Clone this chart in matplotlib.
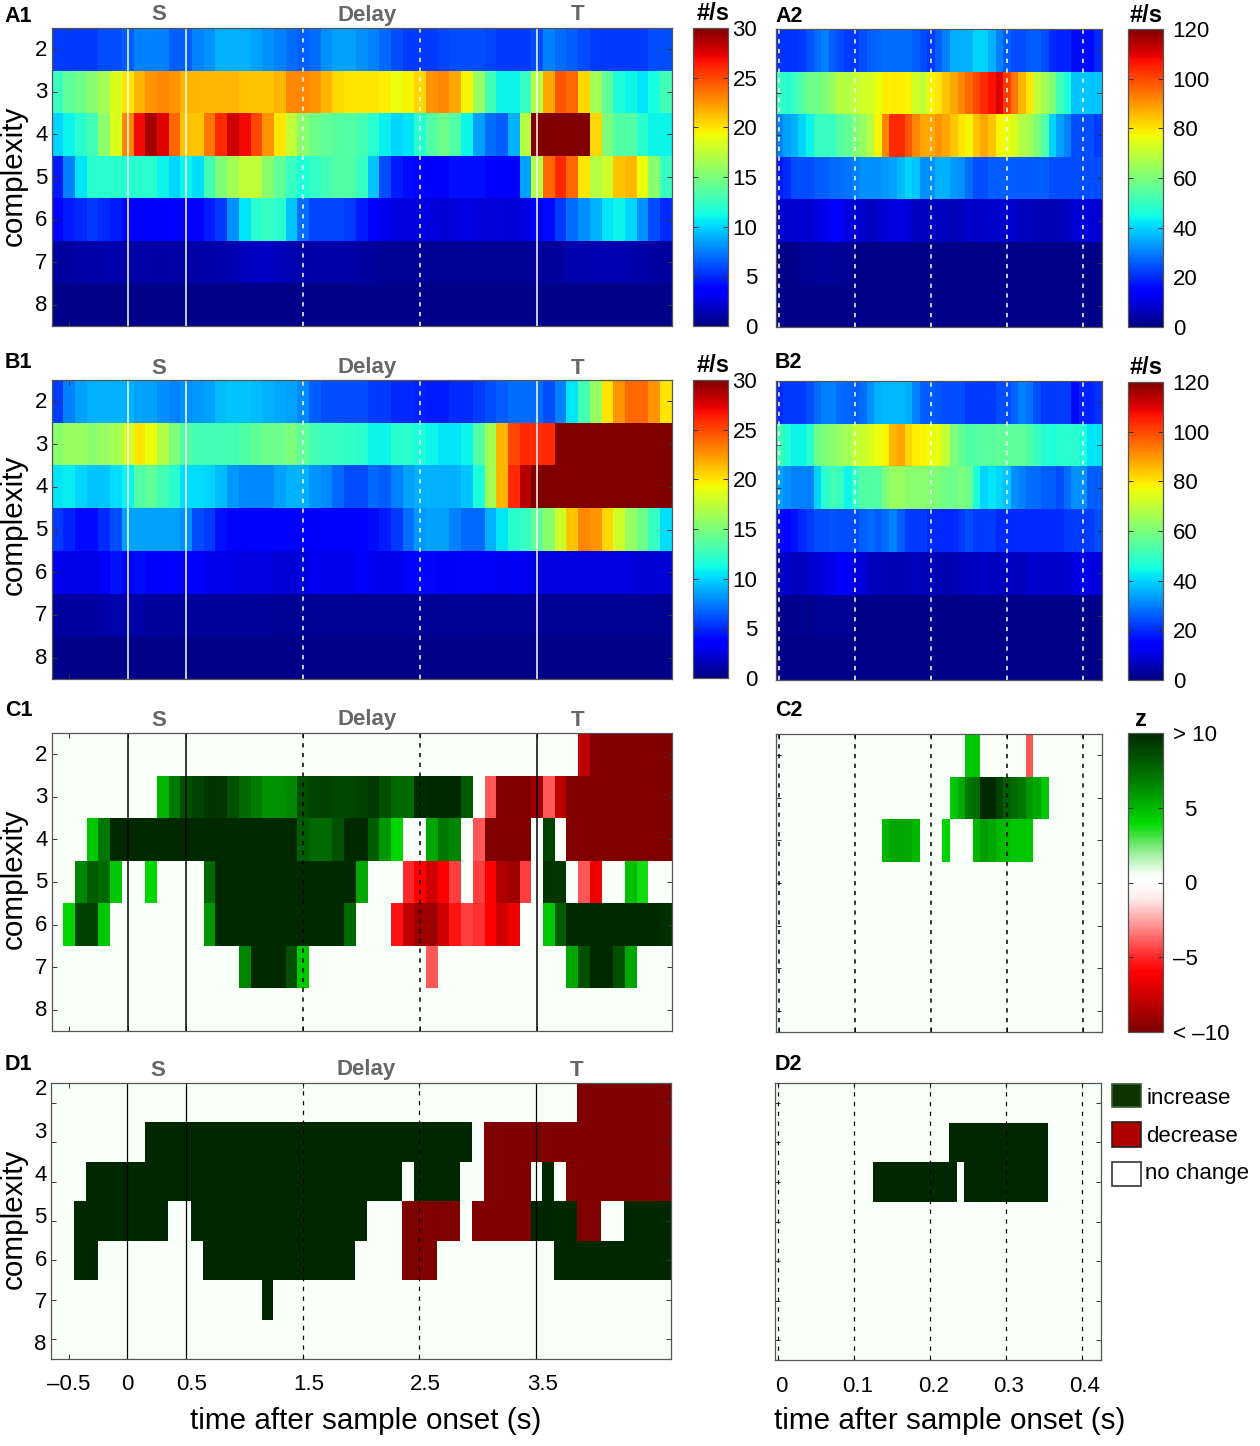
import numpy as np
import matplotlib
matplotlib.use('Agg')
import matplotlib.pyplot as plt
from matplotlib.colors import LinearSegmentedColormap, ListedColormap
from matplotlib.patches import Rectangle
from matplotlib.transforms import ScaledTranslation

plt.rcParams['font.family'] = ['Liberation Sans', 'DejaVu Sans']

W, H = 1260, 1446

complexity = [2, 3, 4, 5, 6, 7, 8]
times_long = [-0.5, 0, 0.5, 1.5, 2.5, 3.5]
labels_long = ['\u20130.5', '0', '0.5', '1.5', '2.5', '3.5']
times_short = [0, 0.1, 0.2, 0.3, 0.4]
labels_short = ['0', '0.1', '0.2', '0.3', '0.4']
solid_events = [0, 0.5, 3.5]
dotted_events = [1.5, 2.5]

# firing rates, one list per complexity, 0.1 s bins
a1_2 = [5.5,5.5,5.5,5.5,6,6,6.5,7.5,7.5,7.5,
  6.5,6.5,7.5,8,9,9,9,8.5,8,7.5,
  7,6.5,7,8,8.5,8.5,8,7.5,6.8,6,
  5.5,5.5,5.5,5.8,6,6,6,5.8,5.5,5.5,
  5.5,6,7.5,7,6.5,6,5.5,5.5,5.5,5.5,
  5.5,6,6]
a1_3 = [12.5,14,14.5,15.5,16.5,18.5,20,21.5,22.5,23,
  22.5,21.5,21.5,21.5,21.5,21.5,21,21,21,21.5,
  23,23,22.5,21.5,20.5,20,20,20,19.8,19,
  19.5,20.5,22.5,23,22,19.5,16,13,11,11,
  12.5,17,22,24.5,24,20.5,16.5,14,11.5,11,
  10.5,11.3,13]
a1_4 = [10,11,12,13,15.5,18.5,23,27,29,27.5,
  24,21,21,23.5,26,28,27,25,22.5,20,
  17.5,15.5,14.5,14,13.7,13.5,13,12,10.8,10,
  10.5,12,13.5,14.5,13.5,11,8.5,7,6.5,9,
  17,31,31,31,31,30,20.5,15,13.5,13.5,
  12,11,11]
a1_5 = [4.5,7.5,10.5,12,12,12,11.8,12,12,11,
  10,11,10.3,13,15,16.5,17.5,17.5,15.5,14,
  12.5,11.7,12.3,13,13.5,13.5,12.5,9.5,6,4.5,
  4,3.8,3.6,3.7,4.2,4.2,4.2,3.6,3.4,3.6,
  8.5,17,24,26,24,20,17,18,21,21.5,
  19,15.5,12.5]
a1_6 = [3.4,4.5,5,5.5,5,4.5,3.8,3.6,3.5,3.4,
  3.4,3.4,3.8,4.5,5.5,8,10.5,12,12.5,12,
  9.5,7,5.8,5.8,5.8,5.5,4.5,3.6,3,2.6,
  2.4,2.5,2.5,2.3,2.4,2.6,2.4,2.4,2.4,2.3,
  2.6,3.4,4,5.5,7,8,9,10.5,11,10,
  8,6,5]
a1_7 = [.9,.9,1.1,1.1,1.2,1.2,1,1,1,1,
  1,1,1.1,1.1,1.2,1.4,1.6,1.8,1.8,1.6,
  1.4,1.1,1.1,1.1,1.1,1.1,.9,.9,.6,.6,
  .6,.6,.6,.6,.6,.6,.6,.6,.6,.6,
  .6,.7,.8,.9,1.2,1.2,1.3,1.4,1.4,1.2,
  1.1,.9,.9]
a1_8 = [.3] * 53

b1_2 = [5.5,7.5,8.5,9,9,9,9,8.5,8.5,8,
  7.5,8,8.3,8.5,9.3,9.5,9.5,9.3,9,8.7,
  8.5,7.8,6.5,6,6,6,6,5.5,5.5,5,
  5,4.8,4.5,4.5,5,5,5.5,6,6.5,7,
  7,7,6,7.5,10.5,13,16,20,22.5,24,
  24,22.5,20]
b1_3 = [15.5,16,16,15.5,16,16.5,18,20,19,17,
  15,13.5,13,13,13,13,13.5,14,14.5,14.5,
  15,14,13,12.5,12.5,12.3,12,11,11,12,
  12,11.5,11,10.5,10.5,11,13.5,16.5,21.5,25,
  26,26,26,31,31,31,31,31,31,31,
  31,31,31]
b1_4 = [10.5,10.7,10,9.5,9.5,10.3,11,13.5,14,13,
  12,10.3,10.3,10,9.3,8.3,7.8,7.8,7.8,8.5,
  9,9,8.2,7.8,6.8,6,6,6.8,6.5,7.5,
  8.5,9,9,9,9,9.5,11.5,16.5,21.5,26,
  28.5,30.5,31,31,31,31,31,31,31,31,
  31,31,31]
b1_5 = [5.5,4.8,4,4,5,6,8.5,8.5,8.5,8.5,
  8.5,8,6,5.5,4.2,3.8,3.6,3.5,3.4,3.4,
  3.4,3.2,3.4,3.4,3.4,3.4,3.4,4,4.5,5.5,
  7,8.3,8.5,8.5,7.5,6.8,6.8,9,10.5,12,
  12.5,14,15.5,18,21,23,22.5,20.5,18,16,
  14.5,12.5,10.3]
b1_6 = [3,2.7,2.8,2.8,3.2,4.3,3.6,4,3.6,3.4,
  3.4,3.5,3.4,3,3,2.8,2.6,2.5,2.5,2.3,
  2.3,2.5,3,3,3,3,3.4,3,3,3,
  3.3,3.9,3.9,3.5,3.2,3.2,3.2,3.2,3.1,3.1,
  3,2.6,2.5,2.5,2.5,2.5,2.5,2.5,2.5,2.5,
  2.3,2.3,2.3]
b1_7 = [.9,.9,.9,.9,1.1,1.2,1.1,1,.8,.8,
  .8,.8,.8,.8,.8,.8,.8,.8,.8,.5,
  .5,.5,.5,.5,.5,.5,.5,.5,.5,.5,
  .7,.7,.7,.7,.7,.7,.5,.5,.5,.5,
  .5,.5,.5,.5,.5,.5,.5,.5,.5,.5,
  .5,.5,.5]
b1_8 = [.3] * 53

# same thing for the short window, 10 ms bins
a2_2 = [21,21,21,22,25,28,30,26,24,22,
  22,24,26,27,28,28,28,28,26,24,
  22,26,30,36,36,36,40,40,36,30,
  26,24,24,26,26,24,20,19,19,16,
  16,16,20]
a2_3 = [50,48,50,54,58,58,60,64,68,68,
  70,72,73,76,79,79,79,78,72,70,
  78,80,84,88,92,96,100,104,107,110,
  102,94,86,80,70,66,60,52,46,38,
  38,38,38]
a2_4 = [30,34,36,40,44,50,50,50,54,56,
  60,64,68,78,92,104,104,98,92,88,
  88,90,88,84,80,78,84,88,84,78,
  76,74,68,66,60,54,40,34,30,24,
  24,24,22]
a2_5 = [18,20,24,24,24,26,26,28,28,29,
  30,32,32,32,33,34,37,40,38,32,
  32,36,36,33,32,28,24,24,26,26,
  26,26,26,26,26,26,24,24,24,24,
  24,24,24]
a2_6 = [9,8,8,9,8,10,11,14,13,10,
  9,8,7,8,9,10,10,9,7,7,
  7,7,7,6,7,8,8,8,8,8,
  8,8,7,7,6,6,6,6,7,9,
  9,9,9]
a2_7 = [1,1,1,2.5,2.5,2.5,3,3,2.5,2.5,
  1,1,1,1,1,1,1,1,1,1,
  1,1,1,1,1,1,1,1,1,1,
  1,1,1,1,1,1,1,1,1,1,
  1,1,1]
a2_8 = [1] * 43

b2_2 = [20,22,22,22,24,28,30,30,28,27,
  26,28,32,36,37,37,37,36,30,26,
  26,25,24,24,24,22,22,22,22,24,
  24,27,30,29,24,22,22,22,22,16,
  19,19,21]
b2_3 = [52,47,44,44,48,58,60,62,64,66,
  70,71,74,76,78,86,88,82,79,78,
  76,75,70,60,56,54,54,55,55,56,
  56,56,56,54,50,48,46,48,48,48,
  46,42,42]
b2_4 = [34,32,30,30,30,40,48,52,50,44,
  50,54,54,54,60,64,64,62,62,62,
  60,60,58,58,60,58,46,40,42,40,
  38,32,30,28,28,26,26,24,28,32,
  32,26,26]
b2_5 = [16,15,17,20,22,24,24,25,24,24,
  24,26,28,26,28,30,26,22,22,22,
  20,20,20,20,22,24,22,22,22,20,
  20,20,20,20,20,20,20,20,22,22,
  22,22,24]
b2_6 = [7,8,6,7,8,9,10,12,14,13,
  10,9,7,6,6,6,6,6,7,6,
  6,6,5,6,6,7,7,8,7,7,
  7,7,6,8,8,8,8,8,8,10,
  11,10,10]
b2_7 = [1.5,1.5,1.5,2,1,2.5,2.5,2.5,2.5,2.5,
  1,1,1,1,1,1,1,1,1,1,
  1,1,1,1,1,1,1,1,1,1,
  1,1,1,1,1,1,1,1,1,1,
  1,1,1]
b2_8 = [1] * 43

# z scores, 0 = nothing significant
c1_2 = [0,0,0,0,0,0,0,0,0,0,
  0,0,0,0,0,0,0,0,0,0,
  0,0,0,0,0,0,0,0,0,0,
  0,0,0,0,0,0,0,0,0,0,
  0,0,0,0,0,-8,-10,-10,-10,-10,
  -10,-10,-10]
c1_3 = [0,0,0,0,0,0,0,0,0,5,
  7,8.5,9,9.5,9.5,8.5,7.5,6.8,6.2,6.2,
  6.5,8.5,9,9,8.8,8.8,9,9.3,8.5,7.5,
  7.5,9.8,10,10,10,8,0,-4,-10,-10,
  -10,-9,-4,-8,-10,-10,-10,-10,-10,-10,
  -10,-10,-10]
c1_4 = [0,0,0,4.5,7,10,10,10,10,10,
  10,10,10,10,10,10,10,10,10,10,
  10,8,7.5,7.5,8.5,10,10,8,6,4,
  0,0,5.5,7,6.5,0,-4,-10,-10,-10,
  -10,0,9,0,-10,-10,-10,-10,-10,-10,
  -10,-10,-10]
c1_5 = [0,0,6.5,8,7.5,4.5,0,0,4,0,
  0,0,0,7.5,10,10,10,10,10,10,
  10,10,10,10,10,10,5.5,0,0,0,
  -5,-6,-7.5,-6,-4.5,0,-4.5,-6,-8.5,-9,
  -4.5,0,9.5,9.5,0,-4,-6.5,0,0,4.8,
  3.8,0,0]
c1_6 = [0,4,9,9,4.5,0,0,0,0,0,
  0,0,0,6,10,10,10,10,10,10,
  10,10,10,10,10,7.5,0,0,0,-5.5,
  -8,-9,-9,-7.5,-5.5,-4.5,-4.8,-6,-7.5,-6.5,
  0,0,4.5,8,10,10,10,10,10,10,
  10,10,9.7]
c1_7 = [0,0,0,0,0,0,0,0,0,0,
  0,0,0,0,0,0,6.5,10,10,10,
  8.5,4.5,0,0,0,0,0,0,0,0,
  0,0,-4,0,0,0,0,0,0,0,
  0,0,0,0,5.5,8.5,10,10,8.5,5.5,
  0,0,0]
c1_8 = [0] * 53

c2_2 = [0,0,0,0,0,0,0,0,0,0,
  0,0,0,0,0,0,0,0,0,0,
  0,0,0,0,0,4.5,4.5,0,0,0,
  0,0,0,-4,0,0,0,0,0,0,
  0,0,0]
c2_3 = [0,0,0,0,0,0,0,0,0,0,
  0,0,0,0,0,0,0,0,0,0,
  0,0,0,4.5,5.5,7,7.5,10,10,9,
  8,7.5,7,6,5.5,4.5,0,0,0,0,
  0,0,0]
c2_4 = [0,0,0,0,0,0,0,0,0,0,
  0,0,0,0,5,5.5,5.5,5.5,5,0,
  0,0,4.2,0,0,0,5,5.8,5.5,5,
  4.8,4.5,4.5,4.5,0,0,0,0,0,0,
  0,0,0]
c2_5 = [0] * 43
c2_6 = [0] * 43
c2_7 = [0] * 43
c2_8 = [0] * 43

# g increase, r decrease, . no change
d1_rows = [
  '..........' '..........' '..........' '..........' '.....rrrrr' 'rrr',
  '........gg' 'gggggggggg' 'gggggggggg' 'gggggg.rrr' 'rrrrrrrrrr' 'rrr',
  '...ggggggg' 'gggggggggg' 'gggggggggg' '.gggg..rrr' 'r.g.rrrrrr' 'rrr',
  '..gggggggg' '..gggggggg' 'ggggggg...' 'rrrrr.rrrr' 'rggggrr..g' 'ggg',
  '..gg......' '...ggggggg' 'gggggg....' 'rrr.......' '...ggggggg' 'ggg',
  '..........' '........g.' '..........' '..........' '..........' '...',
  '..........' '..........' '..........' '..........' '..........' '...',
]
d2_rows = [
  '..........' '..........' '..........' '..........' '...',
  '..........' '..........' '...ggggggg' 'gggggg....' '...',
  '..........' '...ggggggg' 'gggg.ggggg' 'gggggg....' '...',
  '..........' '..........' '..........' '..........' '...',
  '..........' '..........' '..........' '..........' '...',
  '..........' '..........' '..........' '..........' '...',
  '..........' '..........' '..........' '..........' '...',
]

a1 = [a1_2, a1_3, a1_4, a1_5, a1_6, a1_7, a1_8]
a2 = [a2_2, a2_3, a2_4, a2_5, a2_6, a2_7, a2_8]
b1 = [b1_2, b1_3, b1_4, b1_5, b1_6, b1_7, b1_8]
b2 = [b2_2, b2_3, b2_4, b2_5, b2_6, b2_7, b2_8]
c1 = [c1_2, c1_3, c1_4, c1_5, c1_6, c1_7, c1_8]
c2 = [c2_2, c2_3, c2_4, c2_5, c2_6, c2_7, c2_8]

SPINE = '#555555'
BG = '#f9fff9'

z_cmap = LinearSegmentedColormap.from_list('z', [
  (0.0, (0.5, 0, 0)), (0.2, (1, 0, 0)), (0.25, (1, 0.15, 0.15)),
  (0.35, (1, 0.55, 0.55)), (0.45, (1, 0.93, 0.93)), (0.5, (1, 1, 1)),
  (0.53, (0.96, 1, 0.96)), (0.6, (0.6, 0.93, 0.6)), (0.7, (0, 0.85, 0)),
  (0.85, (0, 0.47, 0)), (1.0, (0, 0.16, 0))])
d_cmap = ListedColormap(['#7f0000', '#002800'])


def add_box(left, top, right, bottom):
  return fig.add_axes([left/W, 1 - bottom/H, (right - left)/W, (bottom - top)/H])


def shift(label, dx, dy):
  # move a tick label by some pixels
  label.set_transform(label.get_transform() + ScaledTranslation(dx/100, dy/100, fig.dpi_scale_trans))


def edges(n, start, step):
  return start + step*np.arange(n + 1)


def draw_panel(box, values, longwin, line_col, lw=1.1, **kw):
  ax = add_box(*box)
  ax.set_facecolor(BG)
  values = np.ma.masked_invalid(np.array(values, dtype=float))
  n = values.shape[1]
  xe = edges(n, -0.65, 0.1) if longwin else edges(n, -0.005, 0.01)
  ye = np.arange(1.5, 9.0, 1.0)
  mesh = ax.pcolormesh(xe, ye, values, rasterized=True, **kw)
  ax.set_xlim(xe[0], xe[-1])
  ax.set_ylim(8.5, 1.5)
  dash = (2.8/(lw/1.1), 3.6/(lw/1.1))
  if longwin:
    ax.set_xticks(times_long)
    for t in solid_events:
      ax.axvline(t, color=line_col, lw=lw)
    for t in dotted_events:
      ax.axvline(t, color=line_col, lw=lw, dashes=dash)
  else:
    ax.set_xticks(times_short)
    for t in times_short:
      ax.axvline(t, color=line_col, lw=lw, dashes=dash)
  ax.set_xticklabels([])
  ax.set_yticks(complexity)
  ax.set_yticklabels([])
  ax.tick_params(direction='in', length=3.6, width=0.7, color='#333333', top=True, right=True,
                 labelsize=16, pad=3)
  for s in ax.spines.values():
    s.set_color(SPINE)
    s.set_linewidth(0.9)
  return ax, mesh


def draw_cbar(box, mesh, ticks, ticklabels, pad, ha):
  cax = add_box(*box)
  cb = fig.colorbar(mesh, cax=cax, ticks=ticks)
  cb.outline.set_edgecolor(SPINE)
  cb.outline.set_linewidth(0.9)
  cb.ax.tick_params(direction='in', length=3.6, width=0.7, left=True, right=True,
                    labelsize=16, pad=pad, color='#333333')
  cb.ax.set_yticklabels(ticklabels, ha=ha)
  return cb


fig = plt.figure(figsize=(W/100, H/100), dpi=100, facecolor='white')

rate = dict(cmap='jet')
z = dict(cmap=z_cmap, vmin=-10, vmax=10)

ax_a1, m_a1 = draw_panel((51.7, 28, 671.7, 326), a1, True, 'white', vmin=0, vmax=30, **rate)
ax_a2, m_a2 = draw_panel((775.7, 29, 1101.7, 327), a2, False, 'white', vmin=0, vmax=120, **rate)
ax_b1, m_b1 = draw_panel((51.7, 380, 671.7, 679), b1, True, 'white', vmin=0, vmax=30, **rate)
ax_b2, m_b2 = draw_panel((775.7, 381, 1101.7, 680), b2, False, 'white', vmin=0, vmax=120, **rate)
ax_c1, m_c1 = draw_panel((51.7, 733, 671.7, 1031), np.where(np.array(c1) == 0, np.nan, c1), True, 'black', **z)
ax_c2, m_c2 = draw_panel((775.7, 734, 1101.7, 1032), np.where(np.array(c2) == 0, np.nan, c2), False, 'black', **z)

code = {'g': 1, 'r': -1, '.': np.nan}
d1 = [[code[ch] for ch in row] for row in d1_rows]
d2 = [[code[ch] for ch in row] for row in d2_rows]
ax_d1, m_d1 = draw_panel((51, 1083, 671, 1359), d1, True, 'black', lw=0.9, cmap=d_cmap, vmin=-1, vmax=1)
ax_d2, m_d2 = draw_panel((774.7, 1083, 1100.7, 1360), d2, False, 'black', lw=0.9, cmap=d_cmap, vmin=-1, vmax=1)

# left tick labels
for ax in [ax_a1, ax_b1, ax_c1, ax_d1]:
  ax.set_yticklabels(complexity)

for ax in [ax_a1, ax_b1, ax_c1]:
  for lab in ax.get_yticklabels():
    shift(lab, 0, 1.5)

# D1 labels sit spread out from the ticks in the original
for lab, dy in zip(ax_d1.get_yticklabels(), [16, 12, 9, 6, 2, 0, -3]):
  shift(lab, 0, dy)

ax_d1.set_xticklabels(labels_long)
ax_d2.set_xticklabels(labels_short)
ax_d1.tick_params(axis='x', pad=11)
ax_d2.tick_params(axis='x', pad=11.5)
for lab in ax_d1.get_xticklabels()[2:]:
  shift(lab, 6, 0)
for lab in ax_d2.get_xticklabels():
  shift(lab, 3, 0)

# colour bars
r30 = [0, 5, 10, 15, 20, 25, 30]
r120 = [0, 20, 40, 60, 80, 100, 120]
draw_cbar((693, 28, 728, 326), m_a1, r30, r30, 21, 'right')
draw_cbar((1128, 29, 1163, 327), m_a2, r120, r120, 7, 'left')
draw_cbar((693, 380, 728, 678), m_b1, r30, r30, 21, 'right')
draw_cbar((1128, 382, 1163, 680), m_b2, r120, r120, 7, 'left')
cb_z = draw_cbar((1128, 733, 1163, 1032), m_c2, [-10, -5, 0, 5, 10],
                 ['< \u201310', '\u20135', '0', '5', '> 10'], 7, 'left')
for lab in cb_z.ax.get_yticklabels()[2:4]:
  shift(lab, 11, 0)

# everything else goes on a pixel overlay
over = fig.add_axes([0, 0, 1, 1], zorder=10)
over.set_xlim(0, W)
over.set_ylim(H, 0)
over.axis('off')
over.patch.set_alpha(0)

for name, x, y in [('A1', 4, 17), ('A2', 775, 17), ('B1', 5, 362), ('B2', 775, 362),
                   ('C1', 5, 710), ('C2', 775, 710), ('D1', 5, 1064), ('D2', 775, 1064)]:
  over.text(x, y, name, fontsize=15.5, fontweight='bold', ha='left', va='center')

for y, dx in [(15, 0), (368, 0), (720, 0), (1070, -1)]:
  for name, x in [('S', 159), ('Delay', 367), ('T', 578)]:
    over.text(x + dx, y, name, fontsize=16, fontweight='bold', color='#666666', ha='center', va='center')

for x, y in [(713, 13), (1146, 15), (713, 366), (1146, 367)]:
  over.text(x, y, '#/s', fontsize=17, fontweight='bold', ha='center', va='center')
over.text(1141, 719, 'z', fontsize=17, fontweight='bold', ha='center', va='center')

for y in [176, 525, 879, 1219]:
  over.text(14, y, 'complexity', fontsize=21.3, rotation=90, ha='center', va='center')
over.text(366, 1421, 'time after sample onset (s)', fontsize=21.3, ha='center', va='center')
over.text(950, 1421, 'time after sample onset (s)', fontsize=21.3, ha='center', va='center')

# legend
for name, col, edge, top, bot, tx, ty in [
    ('increase', '#0f3300', '#3a5a30', 1084, 1107, 1146, 1099),
    ('decrease', '#b00000', '#222222', 1122, 1147, 1146, 1136),
    ('no change', 'white', '#333333', 1162, 1186, 1145, 1174)]:
  over.add_patch(Rectangle((1112, top), 29, bot - top, facecolor=col, edgecolor=edge, lw=1.2))
  over.text(tx, ty, name, fontsize=16, ha='left', va='center')

fig.savefig('out.png', dpi=100, facecolor='white')
